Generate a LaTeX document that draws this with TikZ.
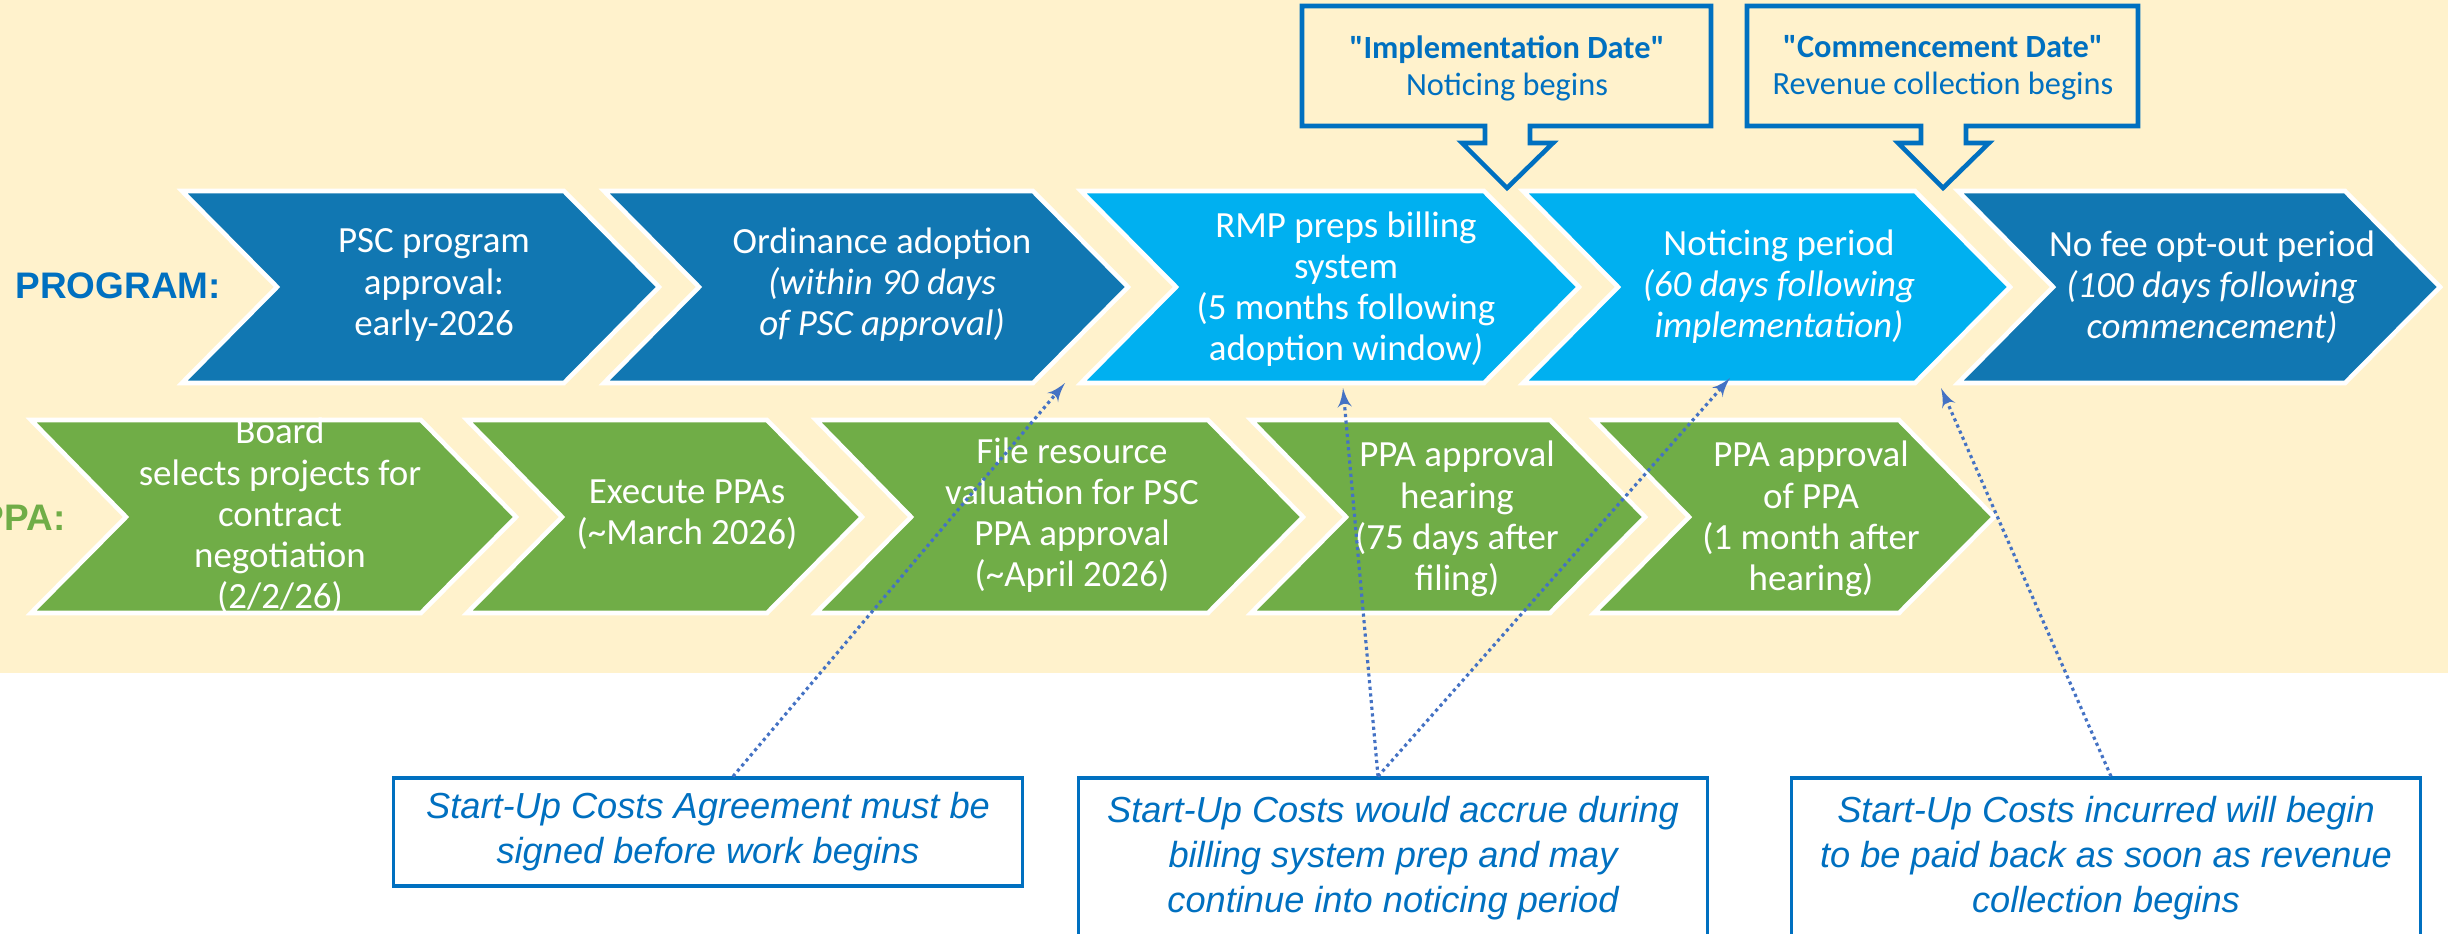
\documentclass[tikz,border=0pt]{standalone}
\usepackage{fontspec}
\setmainfont{Carlito}
\newfontfamily\arialfont{Liberation Sans}
\usepackage{tikz}
\usetikzlibrary{arrows}
\usepackage{xcolor}
\definecolor{cream}{HTML}{FFF2CC}
\definecolor{progblue}{RGB}{17,119,178}
\definecolor{skyblue}{HTML}{00B0F0}
\definecolor{ppagreen}{HTML}{70AD47}
\definecolor{textblue}{HTML}{0070C0}
\definecolor{dotblue}{HTML}{4472C4}

\begin{document}
\begin{tikzpicture}[x=0.01cm,y=-0.01cm]
		\tikzset{chev/.style = {draw=white, line width=1.3pt, line join=miter}}
		\tikzset{chevtext/.style = {text=white, align=center, inner sep=0pt, font=\fontsize{10.5}{11.7}\selectfont}}
		\tikzset{datebox/.style = {draw=textblue, fill=cream, line width=1.3pt, line join=miter}}
		\tikzset{datetext/.style = {text=textblue, align=center, inner sep=0pt, font=\fontsize{9.2}{10.5}\selectfont}}
		\tikzset{costbox/.style = {draw=textblue, line width=0.9pt, fill=white, align=center, text=textblue, minimum width=6.29cm, font=\arialfont\itshape\fontsize{10.3}{12.8}\selectfont}}
		\tikzset{costlink/.style = {draw=dotblue, line width=0.9pt, densely dotted, -latex'}}
		\useasboundingbox (0,0) rectangle (2448,933);
		\fill[cream] (0,0) rectangle (2448,673);
		%row labels
		\node[anchor=base west, inner sep=0pt, text=textblue, font=\arialfont\bfseries\fontsize{10.5}{12}\selectfont] (program) at (15,298) {PROGRAM:};
		\node[anchor=base east, inner sep=0pt, text=ppagreen, font=\arialfont\bfseries\fontsize{10.5}{12}\selectfont] (ppa) at (66,530) {PPA:};
		%program chevrons
		\foreach \a/\b/\c in {182/564/progblue, 604/1033/progblue, 1081/1484/skyblue, 1523/1915/skyblue, 1958/2345/progblue}
			\filldraw[chev, fill=\c] (\a,191) -- (\b,191) -- (\b+95,287) -- (\b,383) -- (\a,383) -- (\a+95,287) -- cycle;
		%ppa chevrons
		\foreach \a/\b in {31/421, 467/767, 816/1208, 1251/1550, 1594/1899}
			\filldraw[chev, fill=ppagreen] (\a,420) -- (\b,420) -- (\b+95,517) -- (\b,613) -- (\a,613) -- (\a+95,517) -- cycle;
		\node[chevtext] (psc) at (434,285) {PSC program\\approval:\\early-2026};
		\node[chevtext] (ordinance) at (882,285) {Ordinance adoption\\\textit{(within 90 days}\\\textit{of PSC approval)}};
		\node[chevtext] (billing) at (1346,289) {RMP preps billing\\system\\(5 months following\\adoption window\textit{)}};
		\node[chevtext] (noticing) at (1779,287) {Noticing period\\\textit{(60 days following}\\\textit{implementation)}};
		\node[chevtext] (optout) at (2212,287) {No fee opt-out period\\\textit{(100 days following}\\\textit{commencement)}};
		\node[chevtext] (board) at (280,516) {Board\\selects projects for\\contract\\negotiation\\(2/2/26)};
		\node[chevtext] (execute) at (687,515) {Execute PPAs\\(\textasciitilde March 2026)};
		\node[chevtext] (valuation) at (1072,515) {File resource\\valuation for PSC\\PPA approval\\(\textasciitilde April 2026)};
		\node[chevtext] (hearing) at (1457,519) {PPA approval\\hearing\\(75 days after\\filing)};
		\node[chevtext] (approval) at (1811,519) {PPA approval\\of PPA\\(1 month after\\hearing)};
		%date callouts
		\filldraw[datebox] (1302,6) -- (1711,6) -- (1711,126) -- (1530,126) -- (1530,143) -- (1553,143) -- (1507,188) -- (1462,143) -- (1485,143) -- (1485,126) -- (1302,126) -- cycle;
		\node[datetext] (impl) at (1507,68) {\textbf{\textquotedbl Implementation Date\textquotedbl}\\Noticing begins};
		\filldraw[datebox] (1747,6) -- (2138,6) -- (2138,126) -- (1966,126) -- (1966,143) -- (1989,143) -- (1943,188) -- (1898,143) -- (1921,143) -- (1921,126) -- (1747,126) -- cycle;
		\node[datetext] (commence) at (1943,68) {\textbf{\textquotedbl Commencement Date\textquotedbl}\\Revenue collection begins};
		%start-up cost notes
		\node[costbox, minimum height=1.08cm] (agree) at (708,832) {Start-Up Costs Agreement must be\\signed before work begins};
		\node[costbox, minimum height=1.6cm] (accrue) at (1393,858) {Start-Up Costs would accrue during\\billing system prep and may\\continue into noticing period};
		\node[costbox, minimum height=1.6cm] (payback) at (2106,858) {Start-Up Costs incurred will begin\\to be paid back as soon as revenue\\collection begins};
		%links
		\coordinate (adoptend) at (1065,383);
		\coordinate (billstart) at (1343,388);
		\coordinate (noticestart) at (1730,378);
		\coordinate (revstart) at (1941,388);
		\draw[costlink] ([xshift=0.25cm]agree.north) -- (adoptend);
		\draw[costlink] ([xshift=-0.15cm]accrue.north) -- (billstart);
		\draw[costlink] ([xshift=-0.15cm]accrue.north) -- (noticestart);
		\draw[costlink] ([xshift=0.05cm]payback.north) -- (revstart);
\end{tikzpicture}
\end{document}
